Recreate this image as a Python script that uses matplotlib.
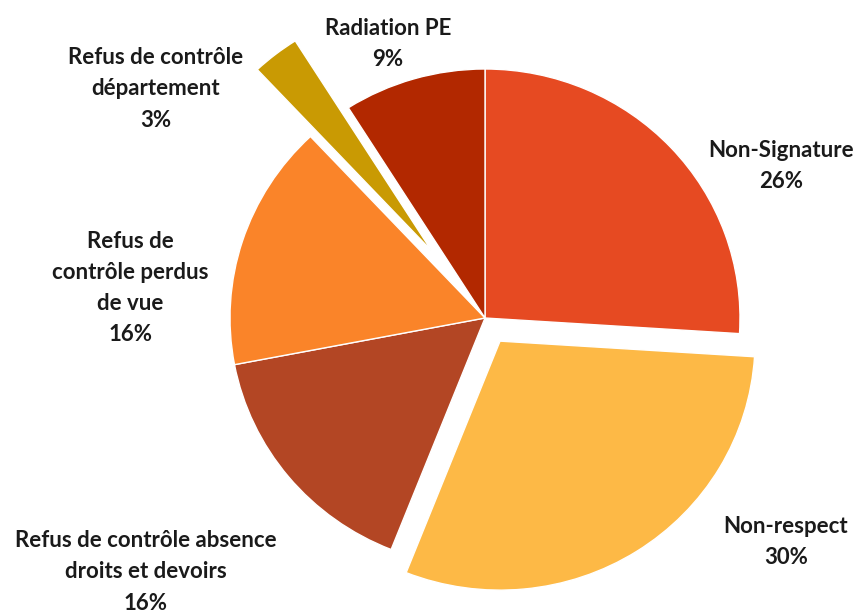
import matplotlib.pyplot as plt

# Motifs de sortie (%)
labels = ["Non-Signature", "Non-respect", "Refus de contrôle absence\ndroits et devoirs",
          "Refus de\ncontrôle perdus\nde vue", "Refus de contrôle\ndépartement", "Radiation PE"]
values = [26, 30, 16, 16, 3, 9]
colors = ["#E64A22", "#FDB946", "#B34624", "#FA8429", "#C99A03", "#B22800"]
explode = [0, 0.11, 0, 0, 0.34, 0]

# label positions (pie centre = 0,0, radius 1)
label_pos = [(1.16, 0.61), (1.18, -0.90), (-1.33, -1.02),
             (-1.39, 0.12), (-1.29, 0.92), (-0.38, 1.10)]

plt.rcParams['font.family'] = ['Lato', 'DejaVu Sans']

fig = plt.figure(figsize=(8.62, 6.15), dpi=100)
ax = fig.add_axes([0, 0, 1, 1])
ax.pie(values, colors=colors, explode=explode, startangle=90, counterclock=False,
       wedgeprops=dict(edgecolor="white", linewidth=1))
ax.set_aspect('auto')
ax.set_xlim(-485 / 255, (862 - 485) / 255)
ax.set_ylim((318 - 615) / 249, 318 / 249)
ax.axis('off')

for lab, v, (x, y) in zip(labels, values, label_pos):
    ax.text(x, y, f"{lab}\n{v}%", ha='center', va='center', fontsize=16,
            fontweight='bold', color='#1a1a1a', linespacing=1.6)

plt.savefig("out.png", dpi=100)
